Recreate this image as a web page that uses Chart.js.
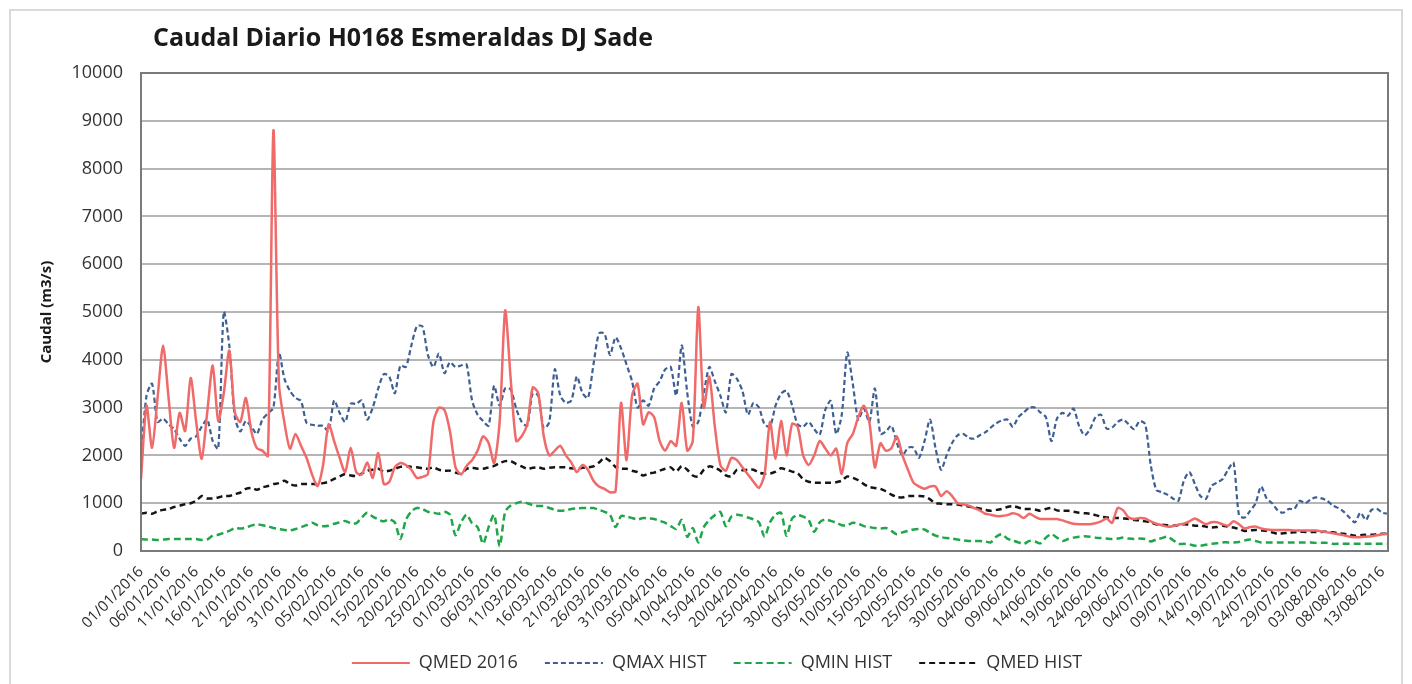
<!DOCTYPE html>
<html>
<head>
<meta charset="utf-8">
<script src="https://cdn.jsdelivr.net/npm/chart.js@4.4.1/dist/chart.umd.min.js"></script>
<style>
  html, body { margin: 0; padding: 0; background: #fff; }
  #wrap { position: relative; width: 1412px; height: 684px; }
  #frame { position: absolute; left: 9px; top: 9px; width: 1390px; height: 700px;
           border: 2px solid #d9d9d9; pointer-events: none; }
  #title { position: absolute; left: 153px; top: 19px; font: bold 25px "Open Sans", sans-serif;
           color: #1a1a1a; white-space: nowrap; }
</style>
</head>
<body>
<div id="wrap">
  <canvas id="chart" width="1412" height="684"></canvas>
  <div id="frame"></div>
  <div id="title">Caudal Diario H0168 Esmeraldas DJ Sade</div>
</div>
<script>
"use strict";

// daily flows (m3/s), 01/01/2016 .. 14/08/2016
const qmed2016 = [
  1510, 3040, 2160, 3200, 4300, 3200, 2160, 2890, 2510, 3620,
  2700, 1930, 2900, 3880, 2720, 3300, 4190, 2900, 2700, 3200,
  2500, 2150, 2100, 1990, 8800, 3500, 2680, 2140, 2450, 2200,
  1950, 1600, 1360, 1800, 2650, 2300, 1950, 1650, 2160, 1650,
  1600, 1850, 1530, 2050, 1400, 1450, 1750, 1840, 1800, 1700,
  1530, 1550, 1610, 2700, 3000, 2950, 2500, 1750, 1600, 1780,
  1900, 2100, 2400, 2260, 1840, 2700, 5030, 3600, 2300, 2400,
  2650, 3420, 3300, 2400, 2000, 2100, 2200, 2000, 1850, 1650,
  1800, 1700, 1470, 1350, 1300, 1230, 1250, 3100, 1900, 3250,
  3500, 2650, 2900, 2800, 2300, 2100, 2300, 2200, 3100, 2100,
  2300, 5100, 3000, 3650, 2600, 1800, 1680, 1950, 1900, 1750,
  1600, 1450, 1320, 1600, 2700, 1930, 2720, 2000, 2660, 2600,
  2000, 1800, 2000, 2300, 2150, 2000, 2140, 1610, 2260, 2450,
  2800, 3040, 2700, 1750, 2250, 2100, 2150, 2400, 2000, 1700,
  1430, 1350, 1300, 1350, 1350, 1150, 1250, 1150, 1000, 980,
  950, 900, 850, 780, 760, 730, 730, 750, 790, 760,
  690, 780, 720, 670, 670, 670, 670, 640, 600, 570,
  560, 560, 560, 580, 620, 680, 590, 900, 850, 700,
  670, 690, 680, 620, 570, 540, 510, 520, 550, 570,
  620, 680, 620, 560, 600, 600, 560, 530, 620, 560,
  470, 500, 510, 470, 450, 440, 440, 440, 440, 430,
  430, 430, 430, 430, 410, 390, 370, 350, 330, 300,
  290, 290, 300, 310, 330, 350, 360
];

const qmaxHist = [
  2000, 3250, 3500, 2700, 2770, 2650, 2550, 2350, 2200, 2350,
  2400, 2600, 2750, 2300, 2140, 5000, 4300, 2800, 2500, 2720,
  2600, 2450, 2750, 2880, 3000, 4150, 3600, 3350, 3200, 3140,
  2680, 2640, 2620, 2620, 2500, 3150, 2890, 2700, 3080, 3080,
  3150, 2750, 3000, 3400, 3700, 3650, 3300, 3880, 3850, 4300,
  4700, 4700, 4100, 3850, 4130, 3720, 3950, 3850, 3880, 3900,
  3150, 2850, 2720, 2620, 3460, 3040, 3400, 3380, 2980, 2700,
  2620, 3300, 3250, 2560, 2700, 3800, 3250, 3100, 3150, 3650,
  3310, 3200, 3900, 4550, 4550, 4100, 4470, 4240, 3900, 3550,
  3000, 3150, 3040, 3400, 3550, 3800, 3850, 3250, 4300, 3310,
  2600, 2700, 3300, 3850, 3550, 3250, 2900, 3700, 3600, 3350,
  2850, 3100, 3000, 2650, 2600, 3040, 3290, 3350, 3050, 2650,
  2600, 2700, 2550, 2430, 2950, 3140, 2450, 2850, 4150, 3500,
  2750, 2980, 2700, 3400, 2450, 2500, 2620, 2260, 2000, 2160,
  2160, 1950, 2300, 2750, 2150, 1700, 2000, 2260, 2420, 2450,
  2370, 2350, 2420, 2480, 2580, 2670, 2730, 2750, 2600, 2800,
  2900, 3000, 3000, 2900, 2800, 2300, 2770, 2890, 2830, 2980,
  2620, 2420, 2550, 2800, 2850, 2560, 2580, 2700, 2750, 2650,
  2550, 2720, 2650, 1800, 1280, 1230, 1180, 1100, 1050, 1470,
  1650, 1400, 1150, 1090, 1360, 1430, 1500, 1700, 1850, 750,
  700, 840, 1000, 1350, 1100, 1000, 850, 800, 880, 880,
  1050, 1000, 1080, 1120, 1100, 1050, 950, 900, 820, 700,
  600, 800, 650, 860, 880, 800, 780
];

const qminHist = [
  250, 240, 240, 230, 240, 250, 250, 250, 250, 250,
  250, 230, 240, 320, 340, 380, 420, 480, 470, 490,
  530, 560, 540, 520, 480, 460, 440, 430, 460, 500,
  540, 590, 540, 520, 530, 570, 600, 630, 580, 580,
  700, 800, 720, 660, 620, 660, 600, 250, 650, 830,
  900, 880, 820, 800, 780, 820, 760, 330, 600, 760,
  580, 500, 150, 500, 760, 100, 820, 950, 1000, 1030,
  1000, 960, 940, 940, 900, 860, 840, 850, 880, 890,
  900, 900, 900, 860, 820, 760, 500, 730, 720, 690,
  660, 690, 680, 670, 630, 590, 520, 460, 650, 300,
  480, 180, 500, 650, 750, 820, 520, 720, 760, 740,
  700, 660, 600, 300, 600, 760, 800, 320, 680, 750,
  720, 650, 400, 600, 660, 630, 590, 540, 540, 590,
  570, 520, 500, 480, 470, 480, 420, 350, 390, 420,
  450, 460, 450, 380, 320, 290, 270, 260, 240, 220,
  210, 210, 210, 200, 180, 300, 350, 260, 220, 180,
  150, 210, 200, 160, 280, 350, 280, 210, 250, 280,
  300, 310, 300, 280, 270, 260, 250, 260, 280, 260,
  250, 260, 250, 200, 240, 270, 300, 230, 150, 150,
  140, 110, 110, 130, 150, 160, 180, 180, 180, 190,
  220, 240, 210, 180, 180, 180, 180, 180, 180, 180,
  180, 180, 180, 170, 170, 170, 150, 150, 150, 150,
  150, 150, 150, 150, 150, 150, 150
];

const qmedHist = [
  780, 800, 780, 830, 860, 880, 920, 950, 980, 1000,
  1050, 1150, 1100, 1100, 1120, 1150, 1150, 1190, 1220, 1300,
  1320, 1280, 1330, 1360, 1400, 1420, 1470, 1400, 1370, 1400,
  1400, 1400, 1400, 1420, 1450, 1510, 1560, 1610, 1580, 1570,
  1620, 1680, 1700, 1720, 1660, 1680, 1720, 1760, 1780, 1760,
  1750, 1730, 1720, 1750, 1700, 1680, 1680, 1640, 1620, 1720,
  1740, 1720, 1720, 1750, 1780, 1840, 1880, 1880, 1820, 1770,
  1720, 1740, 1750, 1720, 1740, 1750, 1750, 1750, 1730, 1720,
  1740, 1750, 1770, 1850, 1950, 1880, 1760, 1720, 1720, 1680,
  1650, 1580, 1620, 1640, 1680, 1720, 1750, 1660, 1780, 1700,
  1580, 1560, 1700, 1770, 1740, 1680, 1580, 1560, 1700, 1690,
  1700, 1700, 1640, 1620, 1620, 1660, 1730, 1700, 1660, 1630,
  1500, 1450, 1430, 1430, 1430, 1430, 1440, 1470, 1560, 1530,
  1480, 1400, 1340, 1320, 1300, 1250, 1180, 1130, 1120, 1150,
  1150, 1150, 1140, 1080, 1000, 990, 980, 980, 970, 950,
  930, 910, 890, 860, 840, 860, 880, 920, 940, 910,
  880, 880, 870, 840, 880, 900, 850, 840, 840, 820,
  800, 790, 780, 750, 720, 700, 690, 690, 680, 670,
  650, 640, 620, 600, 560, 550, 540, 530, 540, 560,
  550, 530, 530, 510, 490, 500, 530, 510, 490, 460,
  420, 430, 440, 430, 420, 390, 360, 370, 380, 390,
  400, 400, 400, 400, 400, 400, 390, 370, 360, 340,
  320, 330, 340, 340, 350, 360, 360
];

const seriesNames = ["QMED 2016", "QMAX HIST", "QMIN HIST", "QMED HIST"];
const yTicks = [0, 1000, 2000, 3000, 4000, 5000, 6000, 7000, 8000, 9000, 10000];

// one category per day, labelled dd/mm/yyyy
const dates = [];
for (let i = 0; i < qmed2016.length; i++) {
  const d = new Date(Date.UTC(2016, 0, 1) + i * 86400000);
  const dd = String(d.getUTCDate()).padStart(2, "0");
  const mm = String(d.getUTCMonth() + 1).padStart(2, "0");
  dates.push(dd + "/" + mm + "/" + d.getUTCFullYear());
}

const FONT = "'Open Sans', sans-serif";

// border round the plot area, like the Excel original
const plotFrame = {
  id: "plotFrame",
  afterDraw(chart) {
    const a = chart.chartArea;
    const ctx = chart.ctx;
    ctx.save();
    ctx.strokeStyle = "#7a7a7a";
    ctx.lineWidth = 2;
    ctx.strokeRect(a.left, a.top, a.right - a.left, a.bottom - a.top);
    ctx.restore();
  }
};

function renderChart() {
  const ctx = document.getElementById("chart");

  new Chart(ctx, {
    type: "line",
    data: {
      labels: dates,
      datasets: [
        {
          label: seriesNames[0],
          data: qmed2016,
          borderColor: "#f06a6a",
          borderWidth: 2.5,
          tension: 0.25,
          order: 0,
        },
        {
          label: seriesNames[1],
          data: qmaxHist,
          borderColor: "#3e5f93",
          borderWidth: 2.2,
          borderDash: [5, 3],
          tension: 0.25,
          order: 1,
        },
        {
          label: seriesNames[2],
          data: qminHist,
          borderColor: "#1fa64a",
          borderWidth: 2.5,
          borderDash: [7, 4],
          tension: 0.25,
          order: 2,
        },
        {
          label: seriesNames[3],
          data: qmedHist,
          borderColor: "#151515",
          borderWidth: 2.5,
          borderDash: [6, 4],
          tension: 0.25,
          order: 3,
        },
      ],
    },
    options: {
      responsive: false,
      animation: false,
      elements: { point: { radius: 0 } },
      layout: { padding: { left: 46, top: 73, right: 24, bottom: 2 } },
      plugins: {
        tooltip: { enabled: false },
        legend: {
          position: "bottom",
          labels: {
            usePointStyle: true,
            pointStyle: "line",
            pointStyleWidth: 58,
            boxHeight: 10,
            padding: 27,
            color: "#333",
            font: { family: FONT, size: 18 },
            generateLabels: (chart) => {
              const items = Chart.defaults.plugins.legend.labels.generateLabels(chart);
              items.forEach((item) => {
                const ds = chart.data.datasets[item.datasetIndex];
                item.lineDash = ds.borderDash || [];
                item.lineWidth = 2.2;
                item.strokeStyle = ds.borderColor;
              });
              return items;
            },
          },
        },
      },
      scales: {
        x: {
          grid: { display: false },
          border: { display: true, color: "#7a7a7a", width: 2 },
          ticks: {
            autoSkip: false,
            minRotation: 45,
            maxRotation: 45,
            padding: 4,
            color: "#2b2b2b",
            font: { family: FONT, size: 15 },
            callback: (val, idx) => (idx % 5 === 0 ? dates[idx] : null),
          },
          afterFit: (scale) => { scale.height = 76; },
        },
        y: {
          min: 0,
          max: 10000,
          afterBuildTicks: (scale) => { scale.ticks = yTicks.map((v) => ({ value: v })); },
          grid: { color: "#b5b5b5", lineWidth: 2, drawTicks: false },
          border: { display: true, color: "#7a7a7a", width: 2 },
          ticks: {
            padding: 18,
            color: "#333",
            font: { family: FONT, size: 18 },
            callback: (v) => String(v),
          },
          title: {
            display: true,
            text: "Caudal (m3/s)",
            color: "#1a1a1a",
            font: { family: FONT, size: 15, weight: "bold" },
            padding: { top: -8, bottom: 0 },
          },
          afterFit: (scale) => { scale.width = 95; },
        },
      },
    },
    plugins: [plotFrame],
  });
}

renderChart();
</script>
</body>
</html>
